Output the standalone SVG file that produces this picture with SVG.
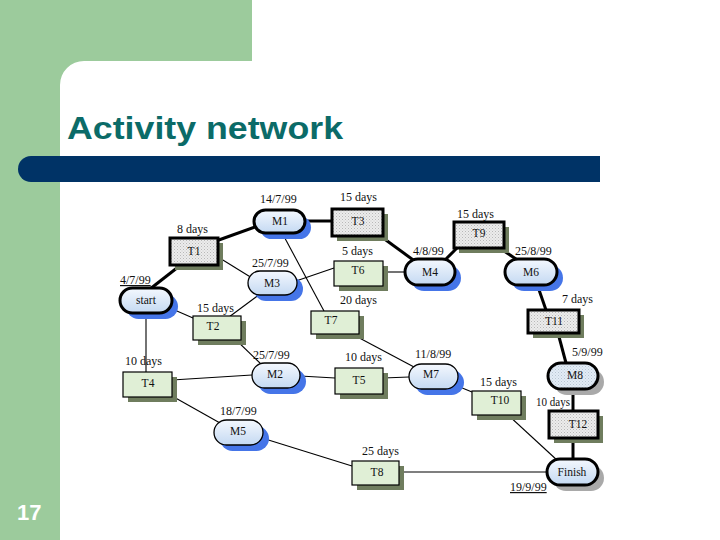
<svg xmlns="http://www.w3.org/2000/svg" width="720" height="540" viewBox="0 0 720 540">
<defs>
<linearGradient id="blu" x1="0" y1="0" x2="0" y2="1">
<stop offset="0" stop-color="#f4f8fe"/>
<stop offset="1" stop-color="#c4d9f2"/>
</linearGradient>
<pattern id="hat" width="3" height="3" patternUnits="userSpaceOnUse">
<rect width="3" height="3" fill="#ececec"/>
<rect width="1" height="1" fill="#b8b8b8"/>
<rect x="1.5" y="1.5" width="1" height="1" fill="#c8c8c8"/>
</pattern>
<pattern id="hatb" width="3" height="3" patternUnits="userSpaceOnUse">
<rect width="3" height="3" fill="#e2ecf6"/>
<rect width="1" height="1" fill="#b9c6d4"/>
<rect x="1.5" y="1.5" width="1" height="1" fill="#c8d2de"/>
</pattern>
</defs>
<style>
.lbl{font-family:"Liberation Serif","Times New Roman",serif;font-size:12px;fill:#111}
.nt{font-family:"Liberation Serif","Times New Roman",serif;font-size:11.5px;fill:#111;text-anchor:middle}
.thin{stroke:#000;stroke-width:1.1;fill:none}
.thick{stroke:#000;stroke-width:3;fill:none}
.pill{fill:url(#blu);stroke:#000;stroke-width:1.3}
.pillk{fill:url(#blu);stroke:#000;stroke-width:3}
.bsh{fill:#4575e8}
.gsh{fill:#a9a9a9}
.rsh{fill:#6f7d5e}
.grn{fill:#e0efd6;stroke:#000;stroke-width:1.2}
.hat{fill:url(#hat);stroke:#000;stroke-width:3}
</style>
<rect width="720" height="540" fill="#ffffff"/>
<g id="background">
<rect x="0" y="0" width="252" height="61" fill="#9ccb9c"/>
<rect x="0" y="0" width="60" height="540" fill="#9ccb9c"/>
<path d="M60 61 H84 A24 24 0 0 0 60 85 Z" fill="#9ccb9c"/>
<path d="M31 156 H600 V182 H31 A13 13 0 0 1 31 156 Z" fill="#003366"/>
<text x="67" y="139" font-family="Liberation Sans,Arial,sans-serif" font-weight="bold" font-size="32" fill="#0b6b68" textLength="276" lengthAdjust="spacingAndGlyphs">Activity network</text>
<text x="17" y="520" font-family="Liberation Sans,Arial,sans-serif" font-weight="bold" font-size="22" fill="#ffffff">17</text>
</g>
<g id="connectors">
<line class="thick" x1="150" y1="289" x2="182" y2="264"/>
<line class="thick" x1="216" y1="241" x2="258" y2="226"/>
<line class="thick" x1="304" y1="221" x2="333" y2="221"/>
<line class="thick" x1="379" y1="235" x2="416" y2="262"/>
<line class="thick" x1="444" y1="261" x2="458" y2="247"/>
<line class="thick" x1="498" y1="247" x2="519" y2="261"/>
<line class="thick" x1="537" y1="284" x2="546" y2="310"/>
<line class="thick" x1="558" y1="333" x2="566" y2="363"/>
<line class="thick" x1="573" y1="389" x2="573" y2="411"/>
<line class="thick" x1="573" y1="438" x2="573" y2="459"/>
<line class="thin" x1="218" y1="257" x2="252" y2="278"/>
<line class="thin" x1="296" y1="281" x2="334" y2="268"/>
<line class="thin" x1="383" y1="272" x2="405" y2="272"/>
<line class="thin" x1="280" y1="229" x2="324" y2="311"/>
<line class="thin" x1="170" y1="308" x2="193" y2="318"/>
<line class="thin" x1="260" y1="294" x2="229" y2="317"/>
<line class="thin" x1="146" y1="313" x2="146" y2="372"/>
<line class="thin" x1="233" y1="337" x2="262" y2="365"/>
<line class="thin" x1="172" y1="380" x2="252" y2="375"/>
<line class="thin" x1="300" y1="376" x2="335" y2="378"/>
<line class="thin" x1="383" y1="378" x2="409" y2="377"/>
<line class="thin" x1="350" y1="333" x2="414" y2="367"/>
<line class="thin" x1="455" y1="385" x2="472" y2="392"/>
<line class="thin" x1="508" y1="415" x2="558" y2="461"/>
<line class="thin" x1="172" y1="396" x2="220" y2="423"/>
<line class="thin" x1="262" y1="438" x2="352" y2="466"/>
<line class="thin" x1="399" y1="472" x2="547" y2="472"/>
</g>
<g id="start">
<rect class="bsh" x="126" y="294" width="52" height="25" rx="12.5"/>
<rect class="pillk" x="120" y="288" width="52" height="25" rx="12.5"/>
<text class="nt" x="146" y="304">start</text>
<text class="lbl" x="120" y="284" text-decoration="underline">4/7/99</text>
</g>
<g id="T1">
<rect class="rsh" x="175" y="243" width="48" height="27"/>
<rect class="hat" x="170" y="238" width="48" height="27"/>
<text class="nt" x="194" y="255">T1</text>
<text class="lbl" x="177" y="233">8 days</text>
</g>
<g id="M1">
<rect class="bsh" x="260" y="216" width="51" height="23" rx="11.5"/>
<rect class="pillk" x="254" y="210" width="51" height="23" rx="11.5"/>
<text class="nt" x="280" y="225">M1</text>
<text class="lbl" x="260" y="203">14/7/99</text>
</g>
<g id="T3">
<rect class="rsh" x="337" y="214" width="51" height="27"/>
<rect class="hat" x="332" y="209" width="51" height="27"/>
<text class="nt" x="358" y="225">T3</text>
<text class="lbl" x="340" y="201">15 days</text>
</g>
<g id="M3">
<rect class="bsh" x="254" y="277" width="49" height="24" rx="12"/>
<rect class="pill" x="248" y="271" width="49" height="24" rx="12"/>
<text class="nt" x="272" y="287">M3</text>
<text class="lbl" x="252" y="267">25/7/99</text>
</g>
<g id="T6">
<rect class="rsh" x="339" y="266" width="49" height="25"/>
<rect class="grn" x="334" y="261" width="49" height="25"/>
<text class="nt" x="358" y="274">T6</text>
<text class="lbl" x="342" y="255">5 days</text>
</g>
<g id="M4">
<rect class="bsh" x="411" y="265" width="50" height="26" rx="13"/>
<rect class="pillk" x="405" y="259" width="50" height="26" rx="13"/>
<text class="nt" x="430" y="276">M4</text>
<text class="lbl" x="413" y="255">4/8/99</text>
</g>
<g id="T9">
<rect class="rsh" x="459" y="227" width="50" height="26"/>
<rect class="hat" x="454" y="222" width="50" height="26"/>
<text class="nt" x="479" y="237">T9</text>
<text class="lbl" x="457" y="218">15 days</text>
</g>
<g id="M6">
<rect class="bsh" x="511" y="265" width="52" height="26" rx="13"/>
<rect class="pillk" x="505" y="259" width="52" height="26" rx="13"/>
<text class="nt" x="531" y="276">M6</text>
<text class="lbl" x="515" y="255">25/8/99</text>
</g>
<g id="T11">
<rect class="rsh" x="533" y="315" width="51" height="23"/>
<rect class="hat" x="528" y="310" width="51" height="23"/>
<text class="nt" x="554" y="325">T11</text>
<text class="lbl" x="562" y="303">7 days</text>
</g>
<g id="T2">
<rect class="rsh" x="198" y="321" width="48" height="24"/>
<rect class="grn" x="193" y="316" width="48" height="24"/>
<text class="nt" x="213" y="330">T2</text>
<text class="lbl" x="197" y="312">15 days</text>
</g>
<g id="T7">
<rect class="rsh" x="316" y="316" width="48" height="23"/>
<rect class="grn" x="311" y="311" width="48" height="23"/>
<text class="nt" x="331" y="324">T7</text>
<text class="lbl" x="340" y="304">20 days</text>
</g>
<g id="T4">
<rect class="rsh" x="128" y="377" width="49" height="25"/>
<rect class="grn" x="123" y="372" width="49" height="25"/>
<text class="nt" x="148" y="387">T4</text>
<text class="lbl" x="125" y="365">10 days</text>
</g>
<g id="M2">
<rect class="bsh" x="258" y="369" width="48" height="25" rx="12.5"/>
<rect class="pill" x="252" y="363" width="48" height="25" rx="12.5"/>
<text class="nt" x="275" y="378">M2</text>
<text class="lbl" x="253" y="359">25/7/99</text>
</g>
<g id="T5">
<rect class="rsh" x="340" y="373" width="48" height="26"/>
<rect class="grn" x="335" y="368" width="48" height="26"/>
<text class="nt" x="359" y="384">T5</text>
<text class="lbl" x="345" y="361">10 days</text>
</g>
<g id="M7">
<rect class="bsh" x="415" y="370" width="49" height="25" rx="12.5"/>
<rect class="pill" x="409" y="364" width="49" height="25" rx="12.5"/>
<text class="nt" x="431" y="378">M7</text>
<text class="lbl" x="415" y="358">11/8/99</text>
</g>
<g id="T10">
<rect class="rsh" x="477" y="396" width="49" height="24"/>
<rect class="grn" x="472" y="391" width="49" height="24"/>
<text class="nt" x="500" y="404">T10</text>
<text class="lbl" x="480" y="386">15 days</text>
</g>
<g id="M5">
<rect class="bsh" x="220" y="426" width="49" height="25" rx="12.5"/>
<rect class="pill" x="214" y="420" width="49" height="25" rx="12.5"/>
<text class="nt" x="238" y="435">M5</text>
<text class="lbl" x="220" y="415">18/7/99</text>
</g>
<g id="T8">
<rect class="rsh" x="357" y="466" width="47" height="24"/>
<rect class="grn" x="352" y="461" width="47" height="24"/>
<text class="nt" x="377" y="476">T8</text>
<text class="lbl" x="362" y="455">25 days</text>
</g>
<g id="M8">
<rect class="gsh" x="554" y="369" width="50" height="26" rx="13"/>
<rect fill="url(#hatb)" stroke="#000" stroke-width="3" x="548" y="363" width="50" height="26" rx="13"/>
<text class="nt" x="575" y="379">M8</text>
<text class="lbl" x="572" y="356">5/9/99</text>
</g>
<g id="T12">
<rect class="rsh" x="554" y="416" width="49" height="27"/>
<rect class="hat" x="549" y="411" width="49" height="27"/>
<text class="nt" x="578" y="428">T12</text>
<text class="lbl" x="536" y="406" textLength="34" lengthAdjust="spacingAndGlyphs">10 days</text>
</g>
<g id="Finish">
<rect class="gsh" x="553" y="465" width="51" height="26" rx="13"/>
<rect class="pillk" x="547" y="459" width="51" height="26" rx="13"/>
<text class="nt" x="572" y="476">Finish</text>
<text class="lbl" x="510" y="491" text-decoration="underline">19/9/99</text>
</g>
</svg>
